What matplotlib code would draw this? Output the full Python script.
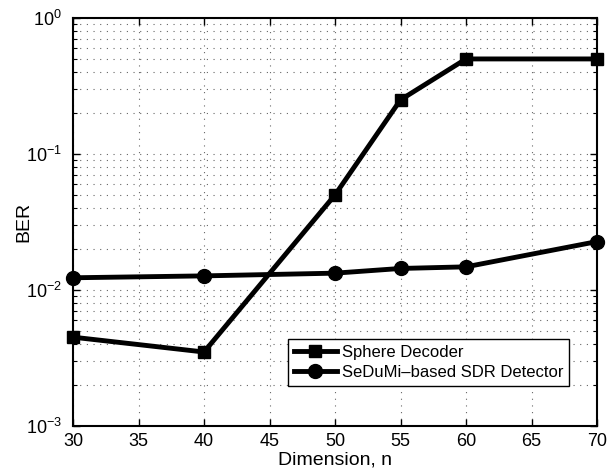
import matplotlib
matplotlib.use("Agg")
import matplotlib.pyplot as plt
from matplotlib.ticker import LogLocator, FixedLocator, NullFormatter

plt.rcParams['font.family'] = ['Liberation Sans', 'DejaVu Sans']
plt.rcParams['mathtext.fontset'] = 'custom'
plt.rcParams['mathtext.rm'] = 'Liberation Sans'

dimension = [30, 40, 50, 55, 60, 70]
ber_sphere = [0.0045, 0.0035, 0.050, 0.25, 0.50, 0.50]
ber_sdr = [0.0123, 0.0127, 0.0133, 0.0144, 0.0148, 0.0227]
x_ticks = [30, 35, 40, 45, 50, 55, 60, 65, 70]

fig = plt.figure(figsize=(6.13, 4.72), dpi=100)
ax = fig.add_axes([73/613, 1 - 426/472, (597-73)/613, (426-18)/472])

ax.plot(dimension, ber_sphere, color='black', lw=3.5, marker='s', ms=9,
        label='Sphere Decoder', clip_on=False, zorder=3)
ax.plot(dimension, ber_sdr, color='black', lw=3.5, marker='o', ms=10,
        label='SeDuMi\u2013based SDR Detector', clip_on=False, zorder=3)

ax.set_yscale('log')
ax.set_xlim(30, 70)
ax.set_ylim(1e-3, 1e0)
ax.xaxis.set_major_locator(FixedLocator(x_ticks))
ax.yaxis.set_major_locator(LogLocator(base=10, numticks=10))
ax.yaxis.set_minor_locator(LogLocator(base=10, subs=range(2, 10), numticks=10))
ax.yaxis.set_minor_formatter(NullFormatter())

ax.grid(True, which='major', axis='both', color='black', ls=(0, (1, 5)), lw=0.8, alpha=0.6)
ax.grid(True, which='minor', axis='y', color='black', ls=(0, (1, 5)), lw=0.8, alpha=0.6)

ax.tick_params(which='both', direction='in', top=True, right=True, labelsize=13)
ax.tick_params(axis='x', pad=5)
ax.tick_params(axis='y', pad=8)
ax.tick_params(which='major', length=5, width=1)
ax.tick_params(which='minor', length=3, width=0.8)
for s in ax.spines.values():
    s.set_linewidth(1.5)

ax.set_xlabel('Dimension, n', fontsize=14, labelpad=1)
ax.set_ylabel('BER', fontsize=14)
ax.yaxis.set_label_coords(-0.078, 0.5)

leg = ax.legend(loc='lower right', bbox_to_anchor=(0.963, 0.078), fontsize=12,
                fancybox=False, edgecolor='black', framealpha=1,
                handlelength=2.6, borderpad=0.35, labelspacing=0.3, handletextpad=0.3)
leg.get_frame().set_linewidth(1.0)

fig.savefig('out.png', dpi=100)
